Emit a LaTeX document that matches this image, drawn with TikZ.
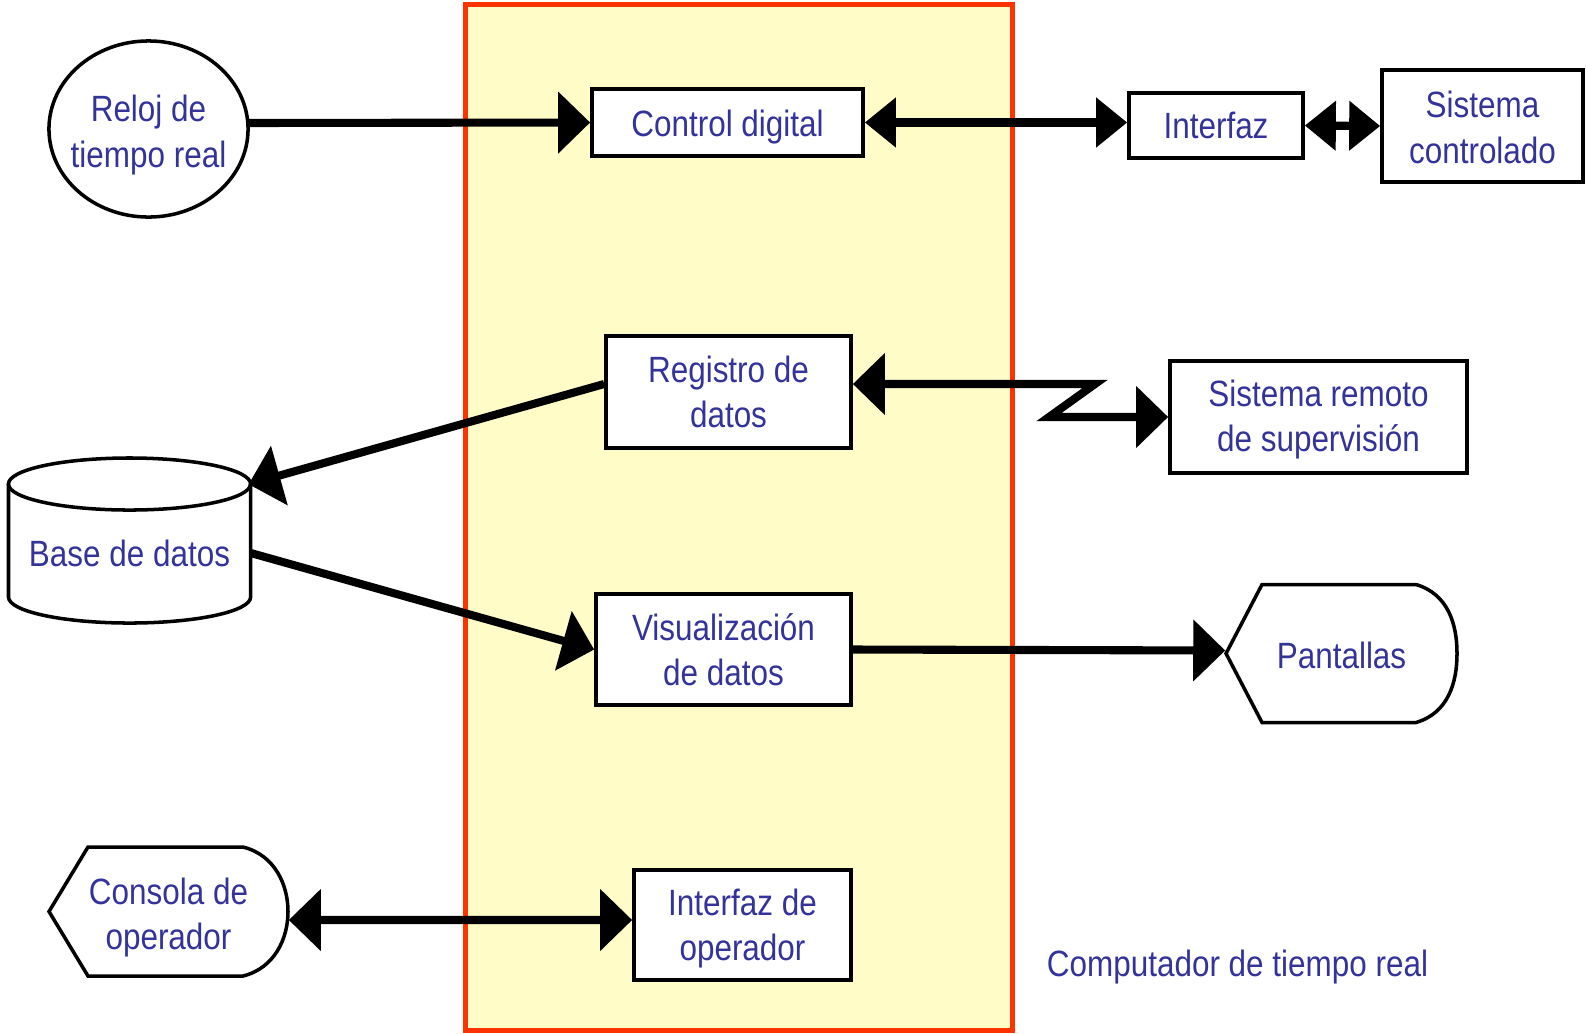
\documentclass[tikz,border=0pt]{standalone}
\usepackage{fontspec}
\setmainfont[FakeStretch=0.86]{Liberation Sans}
\usepackage{tikz}
\usetikzlibrary{arrows.meta,shapes.geometric,calc}
\definecolor{azultexto}{RGB}{51,51,153}
\definecolor{amarillo}{RGB}{255,252,200}
\definecolor{rojo}{RGB}{255,51,0}

\begin{document}
\begin{tikzpicture}[x=0.01cm,y=-0.01cm,
  font=\fontsize{10.4}{12.9}\selectfont,
  caja/.style={draw,line width=1pt,fill=white,text=azultexto,align=center,inner sep=0pt},
  texto/.style={text=azultexto,align=center,inner sep=0pt},
  flecha/.style={line width=2.3pt,-{Triangle[length=0.32cm,width=0.6cm]}},
  dflecha/.style={line width=2.3pt,{Triangle[length=0.32cm,width=0.6cm]}-{Triangle[length=0.32cm,width=0.6cm]}},
  dflechafina/.style={line width=2.3pt,{Triangle[length=0.31cm,width=0.48cm]}-{Triangle[length=0.31cm,width=0.48cm]}}]
\useasboundingbox (0,0) rectangle (1586,1033);
% computador
\draw[rojo,line width=0.05cm,fill=amarillo] (465,4) rectangle (1012,1030);
\node[texto] (comp) at (1237.5,967) {Computador de tiempo real};
% reloj
\node[texto,minimum width=1.99cm,minimum height=1.76cm] (clk) at (148.5,135) {Reloj de\\tiempo real};
\draw[line width=1pt] (148.5,129) ellipse[x radius=0.995cm,y radius=0.88cm];
% bloques
\node[caja,text height=1.0em,minimum width=2.71cm,minimum height=0.67cm] (ctl) at (727.5,122.5) {Control digital};
\node[caja,minimum width=1.74cm,minimum height=0.65cm] (itf) at (1216,125.5) {Interfaz};
\node[caja,text height=2.12em,minimum width=2.01cm,minimum height=1.12cm] (sis) at (1482.5,126) {Sistema\\controlado};
\node[caja,minimum width=2.45cm,minimum height=1.12cm] (reg) at (728.5,392) {Registro de\\datos};
\node[caja,text height=2.18em,minimum width=2.97cm,minimum height=1.12cm] (rem) at (1318.5,417) {Sistema remoto\\de supervisión};
\node[caja,minimum width=2.55cm,minimum height=1.11cm] (vis) at (723.5,649.5) {Visualización\\de datos};
\node[caja,text height=2.23em,minimum width=2.17cm,minimum height=1.10cm] (iop) at (742.5,925) {Interfaz de\\operador};
% base de datos
\node[texto,minimum width=2.41cm,minimum height=1.36cm] (bd) at (129.5,553) {Base de datos};
\draw[line width=1pt] (8.5,484) -- (8.5,597) arc[start angle=180,end angle=360,x radius=1.21cm,y radius=0.26cm] -- (250.5,484);
\draw[line width=1pt] (129.5,484) ellipse[x radius=1.21cm,y radius=0.26cm];
% pantallas
\node[texto,minimum width=2.31cm,minimum height=1.39cm] (pan) at (1341.5,655) {Pantallas};
\draw[line width=1pt] (1226,653.5) -- (1262,584.5) -- (1416,584.5) .. controls (1448,594) and (1457,624) .. (1457,653.5) .. controls (1457,683) and (1448,713) .. (1416,722.5) -- (1262,722.5) -- cycle;
% consola
\node[texto,minimum width=2.39cm,minimum height=1.29cm] (con) at (168.5,917.5) {Consola de\\operador};
\draw[line width=1pt] (49,911.5) -- (88,847) -- (243,847) .. controls (275,855) and (288,885) .. (288,911.5) .. controls (288,938) and (275,968) .. (243,976) -- (88,976) -- cycle;
% conexiones
\draw[flecha] ([yshift=0.12cm]clk.east) -- (ctl.west);
\draw[dflechafina] (ctl.east) -- (ctl.east-|itf.west);
\draw[dflechafina] (itf.east) -- (sis.west);
\draw[flecha] ([yshift=0.08cm]reg.west) -- (bd.30);
\draw[dflecha] ([yshift=0.08cm]reg.east) -- (1095,384) -- (1049,417) -- (rem.west);
\draw[flecha] (bd.east) -- (vis.west);
\draw[flecha] (vis.east) -- ([yshift=0.045cm]pan.west);
\draw[dflecha] ([yshift=-0.025cm]con.east) -- ([yshift=0.05cm]iop.west);
\end{tikzpicture}
\end{document}
